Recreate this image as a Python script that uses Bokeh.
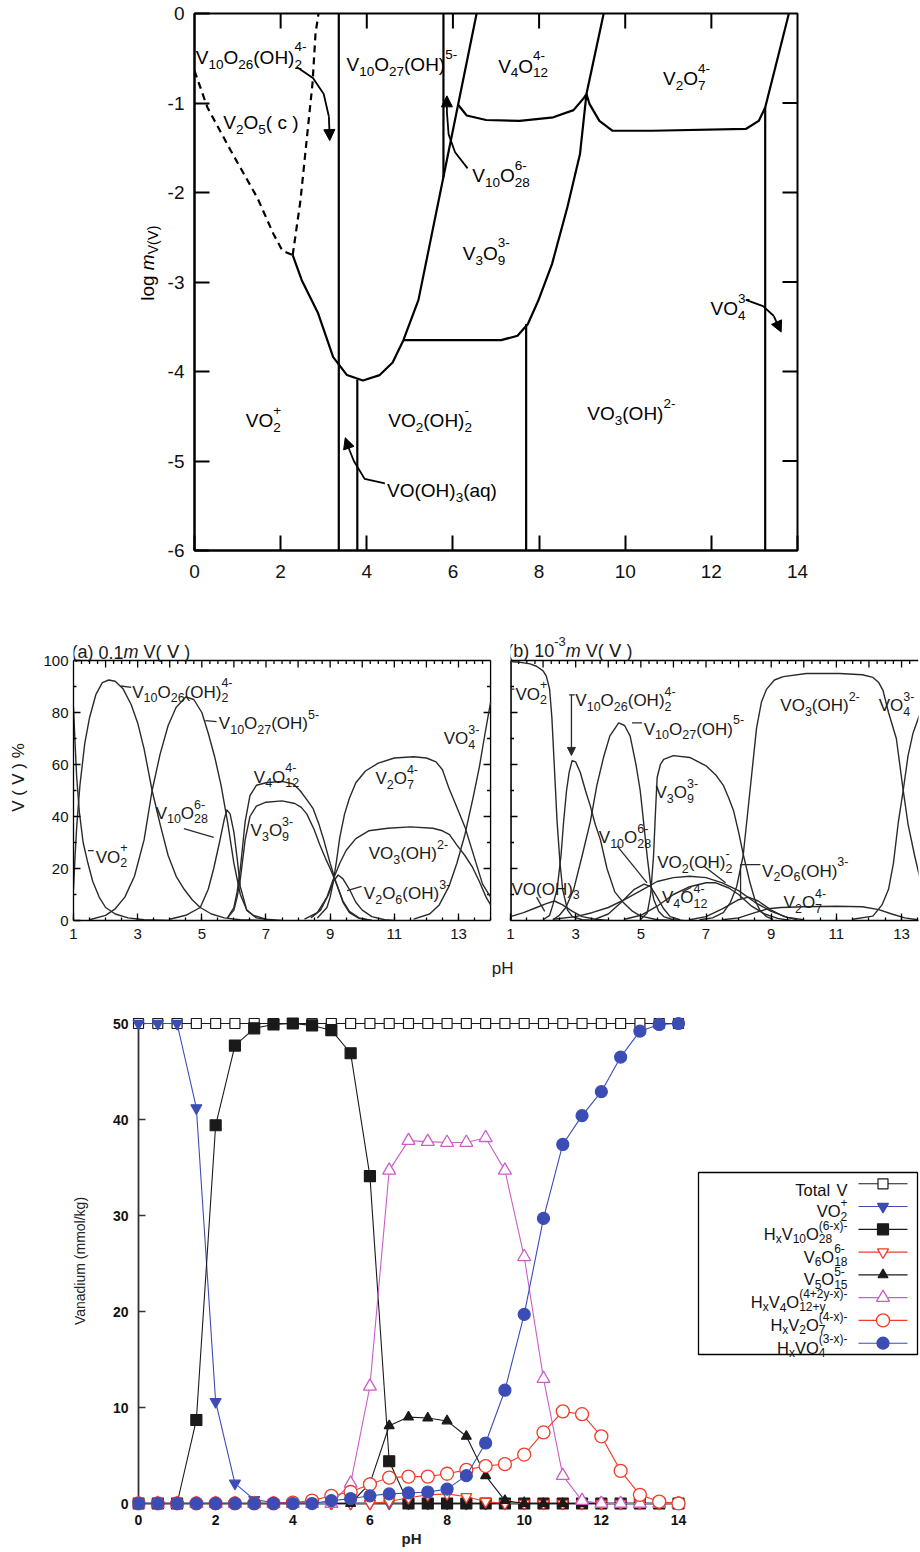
import re, math
from bokeh.plotting import figure
from bokeh.layouts import column, row
from bokeh.models import Range1d, Label, Arrow, NormalHead, FixedTicker
from bokeh.embed import file_html
from bokeh.resources import INLINE

FONT = "Liberation Sans"

# ================= Panel 1: predominance diagram (pH vs log m V(V)) =================
p1_xticks = [0, 2, 4, 6, 8, 10, 12, 14]
p1_yticks = [-6, -5, -4, -3, -2, -1, 0]
v2o5_left_ph = [0.0, 0.30, 0.84, 1.46, 1.83, 2.04, 2.28]
v2o5_left_lm = [-0.64, -1.05, -1.53, -2.06, -2.46, -2.65, -2.70]
v2o5_right_ph = [2.28, 2.46, 2.62, 2.74, 2.81, 2.88]
v2o5_right_lm = [-2.70, -2.09, -1.34, -0.78, -0.22, 0.0]
poly_mono_ph = [2.28, 2.49, 2.87, 3.22, 3.54, 3.91, 4.30, 4.60, 4.85, 5.20, 6.55]
poly_mono_lm = [-2.70, -2.98, -3.35, -3.84, -4.04, -4.10, -4.04, -3.90, -3.65, -3.20, 0.0]
v3o9_low_ph = [4.85, 7.12, 7.50, 7.74, 7.98, 8.30, 8.66, 8.95, 9.10]
v3o9_low_lm = [-3.65, -3.65, -3.60, -3.47, -3.21, -2.80, -2.16, -1.57, -0.90]
v4o12_low_ph = [6.12, 6.32, 6.77, 7.55, 8.33, 8.80, 9.03, 9.10]
v4o12_low_lm = [-1.02, -1.14, -1.19, -1.20, -1.16, -1.08, -0.95, -0.90]
v2o7_low_ph = [9.10, 9.17, 9.40, 9.70, 10.63, 12.80, 13.10, 13.25, 13.80]
v2o7_low_lm = [-0.90, -1.01, -1.20, -1.31, -1.31, -1.29, -1.20, -1.05, 0.0]
v4o12_v2o7_ph = [9.10, 9.50]
v4o12_v2o7_lm = [-0.90, 0.0]
vert_ph = [3.35, 3.78, 5.78, 7.70, 13.25]
vert_top = [0.0, -4.09, 0.0, -3.47, -1.05]
vert_bot = [-6.0, -6.0, -1.83, -6.0, -6.0]
arrow_v10o26_ph = [2.38, 2.75, 3.00, 3.12, 3.14]
arrow_v10o26_lm = [-0.60, -0.72, -0.90, -1.15, -1.42]
arrow_v10o28_ph = [6.34, 6.05, 5.90, 5.86, 5.86]
arrow_v10o28_lm = [-1.73, -1.55, -1.35, -1.10, -0.92]
arrow_vooh3_ph = [4.42, 3.95, 3.70, 3.60, 3.50]
arrow_vooh3_lm = [-5.25, -5.20, -5.00, -4.88, -4.74]
arrow_vo4_ph = [12.80, 13.20, 13.45, 13.62]
arrow_vo4_lm = [-3.20, -3.27, -3.38, -3.56]
p1_names = ["V_{10}O_{26}(OH)_{2}^{4-}", "V_{2}O_{5}( c )", "V_{10}O_{27}(OH)^{5-}", "V_{4}O_{12}^{4-}",
            "V_{2}O_{7}^{4-}", "V_{10}O_{28}^{6-}", "V_{3}O_{9}^{3-}", "VO_{4}^{3-}", "VO_{2}^{+}",
            "VO_{2}(OH)_{2}^{-}", "VO(OH)_{3}(aq)", "VO_{3}(OH)^{2-}"]
p1_name_x = [0.03, 0.67, 3.53, 7.05, 10.88, 6.45, 6.23, 11.98, 1.19, 4.50, 4.47, 9.12]
p1_name_y = [-0.49, -1.22, -0.57, -0.59, -0.73, -1.81, -2.68, -3.30, -4.55, -4.55, -5.33, -4.47]

# ================= Panel (a): 0.1 m V(V), % vs pH =================
a_vo2_ph = [1.0, 1.05, 1.1, 1.18, 1.3, 1.45, 1.6, 1.8, 2.0, 2.3, 2.7, 3.2, 4.0]
a_vo2_pct = [82, 68, 55, 42, 30, 22, 15, 9, 5, 2.5, 1, 0.3, 0]
a_v10o26_ph = [1.0, 1.05, 1.1, 1.2, 1.35, 1.5, 1.7, 1.9, 2.1, 2.3, 2.55, 2.8, 3.0, 3.2, 3.45, 3.7, 3.95, 4.2, 4.45, 4.7, 4.95, 5.3, 5.7, 6.2, 7.0]
a_v10o26_pct = [12, 25, 36, 52, 68, 78, 87, 91.5, 92.5, 92, 89, 83, 76, 66, 50, 37, 25, 17, 12, 8, 5, 2.5, 1, 0.3, 0]
a_v10o27_ph = [1.5, 2.0, 2.3, 2.6, 2.9, 3.2, 3.45, 3.7, 3.95, 4.2, 4.5, 4.75, 5.0, 5.2, 5.4, 5.6, 5.8, 6.0, 6.2, 6.4, 6.7, 7.2]
a_v10o27_pct = [0.3, 2, 4.5, 9, 17, 31, 50, 64, 75, 82, 86, 85, 80, 72, 63, 52, 38, 22, 10, 4, 1, 0]
a_v10o28_ph = [4.0, 4.5, 4.95, 5.2, 5.37, 5.55, 5.7, 5.78, 5.88, 6.0, 6.1, 6.2, 6.4, 6.6, 7.0, 7.5]
a_v10o28_pct = [0.5, 2, 5, 12, 20, 30, 39, 42.5, 41, 34, 24, 13, 4, 2, 0.5, 0]
a_v4o12_ph = [5.8, 6.0, 6.1, 6.2, 6.35, 6.5, 6.7, 7.0, 7.5, 7.85, 8.06, 8.3, 8.47, 8.65, 8.8, 9.0, 9.2, 9.4, 9.6, 9.9, 10.3]
a_v4o12_pct = [1, 5, 11, 20, 38, 48, 52, 53, 53.5, 52.5, 50, 46, 43, 37, 31, 22, 14, 7, 3, 0.8, 0]
a_v3o9_ph = [5.8, 6.0, 6.1, 6.2, 6.35, 6.5, 6.7, 7.0, 7.5, 7.9, 8.1, 8.27, 8.5, 8.68, 8.85, 9.0, 9.2, 9.4, 9.6, 9.9, 10.3]
a_v3o9_pct = [1, 4, 9, 16, 31, 40, 44, 45.5, 46, 45, 43.5, 41, 35, 29, 24, 20, 14, 7.5, 3.5, 1, 0]
a_v2o7_ph = [8.6, 8.9, 9.0, 9.1, 9.2, 9.3, 9.45, 9.6, 9.8, 10.1, 10.5, 11.0, 11.6, 12.0, 12.3, 12.5, 12.7, 13.0, 13.2, 13.5, 13.75, 14.0]
a_v2o7_pct = [1, 5, 9, 15, 23, 32, 41, 47, 53, 57.5, 60.5, 62.5, 63, 62.5, 61, 58, 51, 42, 36, 24, 14, 9]
a_vo3oh_ph = [8.2, 8.6, 8.9, 9.1, 9.3, 9.5, 9.8, 10.2, 10.8, 11.5, 12.2, 12.5, 12.72, 12.95, 13.2, 13.44, 13.65, 13.86, 14.0]
a_vo3oh_pct = [0.5, 3, 9, 16, 22, 27, 31.5, 34.5, 35.5, 36, 35.5, 34.5, 33, 29, 25, 20.4, 15, 9, 6]
a_v2o6oh_ph = [8.4, 8.7, 8.95, 9.1, 9.25, 9.4, 9.6, 9.8, 10.0, 10.3, 10.7, 11.0]
a_v2o6oh_pct = [1, 4, 10, 15, 17.5, 16, 12, 7, 4, 1.5, 0.3, 0]
a_vo4_ph = [11.6, 12.1, 12.4, 12.7, 12.95, 13.2, 13.45, 13.65, 13.8, 14.0]
a_vo4_pct = [0.5, 2.5, 6, 13, 22, 33, 47, 59, 70, 84]
a_names = ["V_{10}O_{26}(OH)_{2}^{4-}", "V_{10}O_{27}(OH)^{5-}", "V_{4}O_{12}^{4-}", "V_{3}O_{9}^{3-}",
           "V_{10}O_{28}^{6-}", "VO_{2}^{+}", "V_{2}O_{7}^{4-}", "VO_{3}(OH)^{2-}", "V_{2}O_{6}(OH)^{3-}", "VO_{4}^{3-}"]
a_name_x = [2.83, 5.53, 6.62, 6.52, 3.56, 1.69, 10.41, 10.20, 10.05, 12.54]
a_name_y = [87.8, 75.7, 55.1, 34.6, 41.2, 24.3, 54.6, 25.8, 10.4, 69.9]

# ================= Panel (b): 1e-3 m V(V), % vs pH =================
b_vo2_ph = [1.0, 1.3, 1.6, 1.8, 2.0, 2.1, 2.2, 2.27, 2.33, 2.43, 2.52, 2.6, 2.75, 2.9, 3.2, 3.6]
b_vo2_pct = [99.6, 99.3, 98.7, 97.8, 96, 94, 89, 78, 63, 38, 22, 12, 4, 1.5, 0.3, 0]
b_vooh3_ph = [1.0, 1.4, 1.8, 2.1, 2.35, 2.6, 2.9, 3.2, 3.6, 4.0]
b_vooh3_pct = [1.5, 3, 5, 6.5, 7.5, 6, 3.5, 1.5, 0.5, 0]
b_v10o26_ph = [2.0, 2.2, 2.3, 2.43, 2.55, 2.63, 2.72, 2.8, 2.89, 3.0, 3.14, 3.3, 3.45, 3.6, 3.76, 3.96, 4.2, 4.47, 4.75, 5.0, 5.5, 6.0]
b_v10o26_pct = [0.3, 2, 6, 12, 25, 38, 50, 57, 61.5, 61, 57, 50, 44, 37, 31, 20, 11, 6.8, 3.5, 1.7, 0.3, 0]
b_v10o27_ph = [2.3, 2.5, 2.7, 2.94, 3.2, 3.45, 3.65, 3.86, 4.05, 4.32, 4.5, 4.67, 4.85, 4.98, 5.1, 5.2, 5.3, 5.4, 5.55, 5.7, 6.0, 6.3]
b_v10o27_pct = [0.3, 2, 5, 12, 25, 38, 52, 63, 71, 76, 75, 71, 60, 50, 36, 24, 14, 8, 3.5, 1.5, 0.3, 0]
b_v10o28_ph = [3.6, 4.0, 4.4, 4.8, 5.1, 5.3, 5.5, 5.7, 5.9, 6.2]
b_v10o28_pct = [0.5, 2.5, 7, 12, 14, 13, 9, 4.5, 1.5, 0.3]
b_v3o9_ph = [5.0, 5.2, 5.3, 5.39, 5.45, 5.5, 5.6, 5.7, 6.0, 6.5, 7.0, 7.3, 7.53, 7.7, 7.85, 8.0, 8.15, 8.35, 8.5, 8.65, 8.85, 9.06]
b_v3o9_pct = [0.5, 3, 10, 25, 42, 55, 60, 62, 63.4, 62.7, 59.5, 56, 52, 47, 42, 34, 25, 14.5, 8, 4, 1.5, 0.4]
b_vo2oh2_ph = [2.3, 3.0, 3.5, 4.0, 4.5, 5.0, 5.5, 6.0, 6.5, 7.0, 7.5, 8.0, 8.5, 9.0, 9.5, 10.0]
b_vo2oh2_pct = [0.5, 1.5, 3, 5, 8, 11.5, 15, 16.5, 17, 16.5, 14.5, 11.5, 7, 3.5, 1.2, 0.3]
b_v4o12_ph = [4.5, 5.0, 5.5, 6.0, 6.5, 7.0, 7.3, 7.7, 8.0, 8.4, 8.8, 9.2, 9.6]
b_v4o12_pct = [0.5, 2, 5.5, 10, 13, 14.5, 14.5, 12.5, 10, 5.5, 2.5, 0.8, 0]
b_v2o6oh_ph = [6.5, 7.0, 7.5, 8.0, 8.3, 8.6, 9.0, 9.4, 9.8]
b_v2o6oh_pct = [0.3, 1.5, 4.5, 8, 9, 7.5, 4, 1.5, 0.3]
b_v2o7_ph = [7.5, 8.0, 8.5, 8.9, 9.3, 10.0, 11.0, 11.8, 12.3, 12.7, 13.1, 13.5]
b_v2o7_pct = [0.3, 1, 3, 4.5, 5, 5.3, 5.5, 5.3, 4.2, 2.5, 1, 0.3]
b_vo3oh_ph = [6.8, 7.2, 7.53, 7.75, 7.94, 8.14, 8.35, 8.55, 8.7, 8.86, 9.1, 9.37, 10.08, 11.1, 11.8, 12.12, 12.3, 12.43, 12.6, 12.84, 13.04, 13.2, 13.4, 13.55]
b_vo3oh_pct = [0.3, 1, 3, 7, 13, 25, 50, 74, 84, 89, 92.5, 93.8, 95, 95, 94.5, 93.5, 91.5, 88.5, 80, 70, 51, 37, 25, 17]
b_vo4_ph = [11.5, 12.12, 12.4, 12.6, 12.75, 12.9, 13.05, 13.2, 13.35, 13.55]
b_vo4_pct = [0.5, 1.7, 6, 12, 22, 37.7, 50, 63.4, 72, 79]
b_names = ["VO_{2}^{+}", "V_{10}O_{26}(OH)_{2}^{4-}", "V_{10}O_{27}(OH)^{5-}", "VO_{3}(OH)^{2-}", "VO_{4}^{3-}",
           "V_{3}O_{9}^{3-}", "V_{10}O_{28}^{6-}", "VO_{2}(OH)_{2}^{-}", "V_{4}O_{12}^{4-}", "V_{2}O_{6}(OH)^{3-}",
           "V_{2}O_{7}^{4-}", "VO(OH)_{3}"]
b_name_x = [1.15, 2.99, 5.09, 9.28, 12.30, 5.45, 3.71, 5.50, 5.65, 8.72, 9.38, 1.03]
b_name_y = [87.1, 84.6, 73.6, 82.6, 82.6, 49.2, 31.9, 22.2, 8.7, 19.0, 6.8, 12.0]

# ================= Panel 3: model speciation, Vanadium (mmol/kg) vs pH =================
ph = [0.0, 0.5, 1.0, 1.5, 2.0, 2.5, 3.0, 3.5, 4.0, 4.5, 5.0, 5.5, 6.0, 6.5, 7.0, 7.5, 8.0, 8.5, 9.0, 9.5,
      10.0, 10.5, 11.0, 11.5, 12.0, 12.5, 13.0, 13.5, 14.0]
total_v = [50, 50, 50, 50, 50, 50, 50, 50, 50, 50, 50, 50, 50, 50, 50, 50, 50, 50, 50, 50,
           50, 50, 50, 50, 50, 50, 50, 50, 50]
vo2 = [50, 50, 50, 41.2, 10.6, 2.1, 0.4, 0.1, 0.1, 0, 0, 0, 0, 0, 0, 0, 0, 0, 0, 0,
       0, 0, 0, 0, 0, 0, 0, 0, 0]
hv10o28 = [0, 0, 0, 8.7, 39.4, 47.7, 49.5, 49.9, 50.0, 49.8, 49.3, 46.9, 34.1, 4.4, 0, 0, 0, 0, 0, 0,
           0, 0, 0, 0, 0, 0, 0, 0, 0]
v6o18 = [0, 0, 0, 0, 0, 0, 0, 0, 0, 0, 0, 0, 0, 0.2, 0.6, 0.9, 1.0, 0.7, 0.2, 0,
         0, 0, 0, 0, 0, 0, 0, 0, 0]
v5o15 = [0, 0, 0, 0, 0, 0, 0, 0, 0, 0, 0, 0, 2.1, 8.1, 9.0, 8.9, 8.6, 7.0, 2.9, 0.3,
         0, 0, 0, 0, 0, 0, 0, 0, 0]
hv4o12 = [0, 0, 0, 0, 0, 0, 0, 0, 0, 0, 0, 2.1, 12.2, 34.7, 37.8, 37.7, 37.6, 37.6, 38.1, 34.7,
          25.7, 13.0, 2.9, 0.3, 0, 0, 0, 0, 0]
hv2o7 = [0, 0, 0, 0, 0, 0, 0, 0, 0.1, 0.3, 0.8, 1.2, 2.0, 2.7, 2.8, 2.8, 3.1, 3.5, 3.9, 4.1,
         5.1, 7.4, 9.6, 9.3, 7.0, 3.4, 0.9, 0.2, 0]
hvo4 = [0, 0, 0, 0, 0, 0, 0, 0, 0, 0, 0.3, 0.5, 0.8, 1.0, 1.1, 1.2, 1.5, 2.9, 6.3, 11.8,
        19.7, 29.7, 37.4, 40.4, 42.9, 46.5, 49.2, 49.9, 50]
series_names = ["Total V", "VO_{2}^{+}", "H_{x}V_{10}O_{28}^{(6-x)-}", "V_{6}O_{18}^{6-}", "V_{5}O_{15}^{5-}",
                "H_{x}V_{4}O_{12+y}^{(4+2y-x)-}", "H_{x}V_{2}O_{7}^{(4-x)-}", "H_{x}VO_{4}^{(3-x)-}"]
p3_xticks = [0, 2, 4, 6, 8, 10, 12, 14]
p3_yticks = [0, 10, 20, 30, 40, 50]

# ================= helpers =================
AW = {' ': 278, '(': 333, ')': 333, '+': 584, '-': 333, '.': 278, '/': 278, '%': 889, 'A': 667, 'H': 722,
      'O': 778, 'V': 667, 'T': 611, 'a': 556, 'b': 556, 'c': 500, 'd': 556, 'g': 556, 'i': 222, 'k': 500,
      'l': 222, 'm': 833, 'n': 556, 'o': 556, 'p': 556, 'q': 556, 't': 278, 'u': 556, 'x': 500, 'y': 500,
      '\u2164': 700}


def tw(s, size):
    return sum(AW.get(c, 556) for c in s) * size / 1000.0


def parse(s):
    segs = []
    for m in re.finditer(r'_\{([^}]*)\}|\^\{([^}]*)\}|~\{([^}]*)\}|([^_^~]+)', s):
        if m.group(1) is not None:
            segs.append((m.group(1), 'b'))
        elif m.group(2) is not None:
            segs.append((m.group(2), 'p'))
        elif m.group(3) is not None:
            segs.append((m.group(3), 'i'))
        else:
            segs.append((m.group(4), 'n'))
    return segs


def formula(p, x, y, spec, size=17, sub=None, align='left', color='black', angle=0.0,
            drop=0.33, rise=0.5, dy0=0.0, font=FONT, panel="center", weight='normal'):
    if sub is None:
        sub = round(size * 0.74, 1)
    pieces = []
    cx = 0.0
    last_sub = None
    for t, k in parse(spec):
        if k in ('n', 'i'):
            for w in re.finditer(r'\S+', t):
                pieces.append((cx + tw(t[:w.start()], size), 0.0, w.group(), size,
                               'italic' if k == 'i' else weight))
            cx += tw(t, size)
            last_sub = None
        elif k == 'b':
            pieces.append((cx, -drop * size, t, sub, weight))
            last_sub = cx
            cx += tw(t, sub)
        else:
            st = last_sub if last_sub is not None else cx
            pieces.append((st, rise * size, t, sub, weight))
            cx = max(cx, st + tw(t, sub))
            last_sub = None
    shift = {'left': 0.0, 'center': -cx / 2.0, 'right': -cx}[align]
    ca, sa = math.cos(angle), math.sin(angle)
    for dx, dy, t, sz, st in pieces:
        dx += shift
        dy += dy0
        p.add_layout(Label(x=x, y=y, x_offset=dx * ca - dy * sa, y_offset=dx * sa + dy * ca, text=t,
                           text_font=font, text_font_size=f"{sz}px", text_font_style=st,
                           text_color=color, text_align='left', text_baseline='alphabetic',
                           angle=angle), panel)


def style_axis(ax, size, standoff, tin, lw, color='black', font_style='normal'):
    ax.major_tick_in = tin
    ax.major_tick_out = 0
    ax.minor_tick_in = max(2, tin // 2)
    ax.minor_tick_out = 0
    ax.axis_line_width = lw
    ax.axis_line_color = color
    ax.major_tick_line_width = lw
    ax.major_tick_line_color = color
    ax.minor_tick_line_width = lw
    ax.minor_tick_line_color = color
    ax.major_label_text_font = FONT
    ax.major_label_text_font_style = font_style
    ax.major_label_text_color = '#111111'
    ax.major_label_text_font_size = f"{size}px"
    ax.major_label_standoff = standoff


def ticks_x(p, xs, y0, length, color, lw):
    p.segment(x0=xs, y0=[y0] * len(xs), x1=xs, y1=[y0 + length] * len(xs), line_color=color, line_width=lw)


def ticks_y(p, ys, x0, length, color, lw):
    p.segment(x0=[x0] * len(ys), y0=ys, x1=[x0 + length] * len(ys), y1=ys, line_color=color, line_width=lw)


# ================= Figure 1 =================
p1 = figure(x_range=Range1d(0, 14), y_range=Range1d(-6, 0), frame_width=603, frame_height=537,
            min_border_left=194, min_border_right=123, min_border_top=13, min_border_bottom=46,
            output_backend="svg", toolbar_location=None)
p1.grid.visible = False
p1.outline_line_color = "black"
p1.outline_line_width = 2
p1.xaxis.ticker = FixedTicker(ticks=p1_xticks)
p1.yaxis.ticker = FixedTicker(ticks=p1_yticks)
for ax in p1.axis:
    style_axis(ax, 19, 10, 15, 2)
    ax.minor_tick_line_color = None
p1.xaxis.major_label_standoff = 14
p1.yaxis.major_label_overrides = {float(t): str(t) for t in p1_yticks}
S1X, S1Y = 603 / 14.0, 537 / 6.0
ticks_x(p1, [2, 4, 6, 8, 10, 12], 0.0, -15 / S1Y, "black", 2)
ticks_y(p1, [-5, -4, -3, -2, -1], 14.0, -15 / S1X, "black", 2)

LW1 = 2.2
p1.line(v2o5_left_ph, v2o5_left_lm, line_color="black", line_width=LW1, line_dash="7 5")
p1.line(v2o5_right_ph, v2o5_right_lm, line_color="black", line_width=LW1, line_dash="7 5")
for xs, ys in ((poly_mono_ph, poly_mono_lm), (v3o9_low_ph, v3o9_low_lm), (v4o12_low_ph, v4o12_low_lm),
               (v2o7_low_ph, v2o7_low_lm), (v4o12_v2o7_ph, v4o12_v2o7_lm)):
    p1.line(xs, ys, line_color="black", line_width=LW1, line_join="round")
p1.segment(x0=vert_ph, y0=vert_top, x1=vert_ph, y1=vert_bot, line_color="black", line_width=LW1)
for xs, ys in ((arrow_v10o26_ph, arrow_v10o26_lm), (arrow_v10o28_ph, arrow_v10o28_lm),
               (arrow_vooh3_ph, arrow_vooh3_lm), (arrow_vo4_ph, arrow_vo4_lm)):
    p1.line(xs[:-1], ys[:-1], line_color="black", line_width=1.8, line_join="round")
    p1.add_layout(Arrow(end=NormalHead(size=11, fill_color="black", line_color="black"),
                        x_start=xs[-2], y_start=ys[-2], x_end=xs[-1], y_end=ys[-1],
                        line_color="black", line_width=1.8))
for s, x, y in zip(p1_names, p1_name_x, p1_name_y):
    formula(p1, x, y, s, size=19, sub=13.5, drop=0.35, rise=0.55)
formula(p1, -1.09, -3.21, "log ~{m}_{V(\u2164)}", size=19, sub=14, angle=math.pi / 2, drop=0.3,
        panel="left")

# ================= Figures (a) and (b) =================
MID_LW = 1.3
CURVE = "#2a2a2a"
SAY = 2.6


def mid_fig(x_start, x_end, fw, left, right):
    p = figure(x_range=Range1d(x_start, x_end), y_range=Range1d(0, 110), frame_width=fw, frame_height=286,
               min_border_left=left, min_border_right=right, min_border_top=38, min_border_bottom=25,
               output_backend="svg", toolbar_location=None)
    p.grid.visible = False
    p.outline_line_color = None
    p.xaxis.ticker = FixedTicker(ticks=[1, 3, 5, 7, 9, 11, 13], minor_ticks=[i * 0.5 for i in range(2, 29)])
    style_axis(p.xaxis[0], 15, 8, 7, MID_LW)
    return p


pa = mid_fig(1, 14.06, 419, 73, 3)
pa.xaxis.bounds = (1, 14)
pa.yaxis.ticker = FixedTicker(ticks=[0, 20, 40, 60, 80, 100], minor_ticks=[10, 30, 50, 70, 90])
style_axis(pa.yaxis[0], 15, 5, 7, MID_LW)
pa.yaxis.bounds = (0, 100)
pa.yaxis.axis_label = "V ( \u2164 ) %"
pa.yaxis.axis_label_text_font = FONT
pa.yaxis.axis_label_text_font_size = "17px"
pa.yaxis.axis_label_text_font_style = "normal"
pa.yaxis.axis_label_text_color = "#1a1a1a"
pa.yaxis.axis_label_standoff = 12
SAX = 419 / 13.06
pa.segment(x0=[1, 14], y0=[100, 0], x1=[14, 14], y1=[100, 100], line_color="black", line_width=MID_LW)
ticks_x(pa, [2, 3, 4, 5, 6, 7, 8, 9, 10, 11, 12, 13], 100, -7 / SAY, "black", MID_LW)
ticks_x(pa, [1 + i * 0.25 for i in range(1, 52) if i % 4], 100, -3.5 / SAY, "black", MID_LW)
ticks_y(pa, [20, 40, 60, 80], 14, -7 / SAX, "black", MID_LW)
ticks_y(pa, [10, 30, 50, 70, 90], 14, -3.5 / SAX, "black", MID_LW)

pb = mid_fig(1, 13.52, 408, 15, 2)
pb.xaxis.bounds = (1, 13.52)
pb.yaxis.visible = False
SBX = 408 / 12.52
pb.segment(x0=[1, 1], y0=[0, 100], x1=[1, 13.52], y1=[100, 100], line_color="black", line_width=MID_LW)
pb.segment(x0=[1], y0=[0], x1=[1], y1=[100], line_color="black", line_width=2 * MID_LW)
ticks_x(pb, [2, 3, 4, 5, 6, 7, 8, 9, 10, 11, 12, 13], 100, -7 / SAY, "black", MID_LW)
ticks_x(pb, [1 + i * 0.25 for i in range(1, 50) if i % 4], 100, -3.5 / SAY, "black", MID_LW)
ticks_y(pb, [20, 40, 60, 80], 1, 7 / SBX, "black", MID_LW)
ticks_y(pb, [10, 30, 50, 70, 90], 1, 3.5 / SBX, "black", MID_LW)

for xs, ys in ((a_vo2_ph, a_vo2_pct), (a_v10o26_ph, a_v10o26_pct), (a_v10o27_ph, a_v10o27_pct),
               (a_v10o28_ph, a_v10o28_pct), (a_v4o12_ph, a_v4o12_pct), (a_v3o9_ph, a_v3o9_pct),
               (a_v2o7_ph, a_v2o7_pct), (a_vo3oh_ph, a_vo3oh_pct), (a_v2o6oh_ph, a_v2o6oh_pct),
               (a_vo4_ph, a_vo4_pct)):
    pa.line(xs, ys, line_color=CURVE, line_width=1.4, line_join="round")
for xs, ys in ((b_vo2_ph, b_vo2_pct), (b_vooh3_ph, b_vooh3_pct), (b_v10o26_ph, b_v10o26_pct),
               (b_v10o27_ph, b_v10o27_pct), (b_v10o28_ph, b_v10o28_pct), (b_v3o9_ph, b_v3o9_pct),
               (b_vo2oh2_ph, b_vo2oh2_pct), (b_v4o12_ph, b_v4o12_pct), (b_v2o6oh_ph, b_v2o6oh_pct),
               (b_v2o7_ph, b_v2o7_pct), (b_vo3oh_ph, b_vo3oh_pct), (b_vo4_ph, b_vo4_pct)):
    pb.line(xs, ys, line_color=CURVE, line_width=1.4, line_join="round")

# leader lines
for xs, ys in (([2.47, 2.80], [90.2, 89.7]), ([5.11, 5.46], [76.9, 76.5]), ([4.44, 5.37], [35.3, 32.0]),
               ([1.45, 1.63], [26.9, 26.9]), ([9.53, 9.98], [11.5, 13.1])):
    pa.line(xs, ys, line_color=CURVE, line_width=1.3)
for xs, ys in (([2.80, 2.97], [86.8, 86.8]), ([4.73, 5.04], [76.0, 76.0]), ([4.27, 5.19], [28.7, 14.5]),
               ([6.93, 7.60], [21.0, 14.5]), ([6.28, 6.55], [11.0, 12.8]), ([8.67, 8.06, 8.06], [21.5, 21.5, 8.5]),
               ([1.80, 2.05], [9.0, 3.5]), ([1.0, 1.12], [89.0, 89.0])):
    pb.line(xs, ys, line_color=CURVE, line_width=1.3)
pb.add_layout(Arrow(end=NormalHead(size=8, fill_color=CURVE, line_color=CURVE), x_start=2.87, y_start=86.8,
                    x_end=2.87, y_end=63.5, line_color=CURVE, line_width=1.3))

for s, x, y in zip(a_names, a_name_x, a_name_y):
    formula(pa, x, y, s, size=17, sub=12.5, drop=0.33, rise=0.55, color="#1a1a1a")
for s, x, y in zip(b_names, b_name_x, b_name_y):
    formula(pb, x, y, s, size=17, sub=12.5, drop=0.33, rise=0.55, color="#1a1a1a")
formula(pa, 0.94, 103.2, "(a) 0.1~{m} V( \u2164 )", size=18, sub=13, color="#1a1a1a")
formula(pb, 0.90, 103.8, "(b) 10^{-3}~{m} V( \u2164 )", size=18, sub=13, color="#1a1a1a")

# ================= Figure 3 (curves) and Figure 4 (legend) =================
S3X, S3Y = 38.57, 9.6
p3 = figure(x_range=Range1d(-6 / S3X, 552 / S3X), y_range=Range1d(-7 / S3Y, 492 / S3Y),
            frame_width=558, frame_height=499,
            min_border_left=132, min_border_right=0, min_border_top=66, min_border_bottom=42,
            output_backend="svg", toolbar_location=None)
p3.grid.visible = False
p3.outline_line_color = None
p3.xaxis.ticker = FixedTicker(ticks=p3_xticks)
p3.yaxis.ticker = FixedTicker(ticks=p3_yticks)
for ax in p3.axis:
    style_axis(ax, 14, 4, 0, 1.6, color="#222222", font_style="bold")
    ax.axis_line_color = None
    ax.major_tick_line_color = None
    ax.minor_tick_line_color = None
p3.xaxis.major_label_standoff = 4
p3.xaxis.axis_label = "pH"
p3.xaxis.axis_label_standoff = 2
p3.xaxis.axis_label_text_font = FONT
p3.xaxis.axis_label_text_font_size = "15px"
p3.xaxis.axis_label_text_font_style = "bold"
p3.xaxis.axis_label_text_color = "#222222"
p3.yaxis.axis_label = "Vanadium (mmol/kg)"
p3.yaxis.axis_label_standoff = 22
p3.yaxis.axis_label_text_font = FONT
p3.yaxis.axis_label_text_font_size = "14px"
p3.yaxis.axis_label_text_font_style = "normal"
p3.yaxis.axis_label_text_color = "#222222"
AXC = "#333333"
p3.segment(x0=[0, 0], y0=[0, 0], x1=[0, 14], y1=[50, 0], line_color=AXC, line_width=1.8)
ticks_y(p3, [10, 20, 30, 40, 50], 0, 7 / S3X, AXC, 1.6)
ticks_x(p3, [2, 4, 6, 8, 10, 12, 14], 0, 7 / S3Y, AXC, 1.6)

BLUE = "#3b4db5"
RED = "#f23c28"
MAG = "#c95ec9"
BLK = "#1a1a1a"
series = [
    (total_v, BLK, "square", "white", 10, 1.2),
    (vo2, BLUE, "inverted_triangle", BLUE, 11, 1.2),
    (hv10o28, BLK, "square", BLK, 11, 1.2),
    (v6o18, RED, "inverted_triangle", "white", 11, 1.3),
    (v5o15, BLK, "triangle", BLK, 10, 1.2),
    (hv4o12, MAG, "triangle", "white", 13, 1.3),
    (hv2o7, RED, "circle", "white", 13, 1.3),
    (hvo4, BLUE, "circle", BLUE, 12, 1.2),
]
for vals, col, mk, fill, sz, lw in series:
    p3.line(ph, vals, line_color=col, line_width=1.1)
    p3.scatter(ph, vals, marker=mk, size=sz, line_color=col, fill_color=fill, line_width=lw)

p3.add_layout(Label(x=9.44, y=55.73, text="pH", text_align="center", text_baseline="middle",
                    text_font=FONT, text_font_size="17px", text_color="#1a1a1a"), "above")

# legend panel: its frame is aligned with the curve frame; ranges are page pixels (y downward)
p4 = figure(x_range=Range1d(690, 920), y_range=Range1d(1510, 1011), frame_width=230, frame_height=499,
            min_border_left=0, min_border_right=0, min_border_top=66, min_border_bottom=42,
            x_axis_location=None, y_axis_location=None, output_backend="svg", toolbar_location=None)
p4.grid.visible = False
p4.outline_line_color = None
p4.quad(left=[698], right=[917], top=[1172], bottom=[1354], fill_color=None, line_color="black", line_width=1.3)
for i, (name, (vals, col, mk, fill, sz, lw)) in enumerate(zip(series_names, series)):
    ly = 1183.3 + 22.77 * i
    p4.line([858, 907], [ly, ly], line_color=col, line_width=1.1)
    p4.scatter([882.5], [ly], marker=mk, size=sz, line_color=col, fill_color=fill, line_width=lw)
    formula(p4, 847, ly, name, size=16.5, sub=12, align='right', drop=0.3, rise=0.5,
            dy0=-6.0 if i == 0 else -4.5, color="#111111")

layout = column(p1, row(pa, pb, spacing=0), row(p3, p4, spacing=0), spacing=0)
open("out.html", "w").write(file_html(layout, INLINE))
